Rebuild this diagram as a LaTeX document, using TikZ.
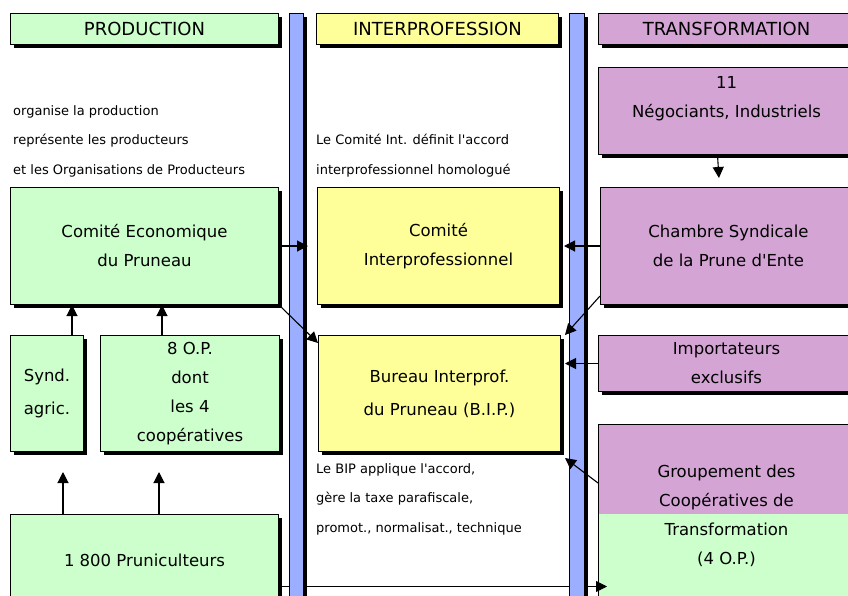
\documentclass[tikz,border=0pt]{standalone}
\usepackage{fontspec}
\setmainfont{DejaVu Sans}
\usetikzlibrary{arrows.meta,positioning,shadows}

\definecolor{prodgreen}{RGB}{204,255,204}
\definecolor{interyellow}{RGB}{255,255,153}
\definecolor{transmauve}{RGB}{212,164,212}
\definecolor{barblue}{RGB}{156,174,255}

\begin{document}
\begin{tikzpicture}[x=1pt,y=-1pt,->,>={Triangle[length=11pt,width=11pt]},
  box/.style={draw=black,line width=1pt,fill=#1,anchor=north west,align=center,
    inner sep=0pt,font=\fontsize{16.5}{29}\selectfont,
    drop shadow={shadow xshift=3pt,shadow yshift=-3pt,fill=black,opacity=1}},
  head/.style={box=#1,minimum height=31pt,font=\fontsize{18}{20}\selectfont},
  note/.style={anchor=base west,align=left,inner sep=0pt,font=\fontsize{13}{29.5}\selectfont},
  bar/.style={box=barblue,minimum height=600pt},
  link/.style={line width=1.1pt}]
  \useasboundingbox[fill=white] (0,0) rectangle (848,595);

  % column heads
  \node[head=prodgreen,minimum width=268pt] (prodhead) at (10,13) {PRODUCTION};
  \node[head=interyellow,minimum width=242pt] (interhead) at (316,13) {INTERPROFESSION};
  \node[head=transmauve,minimum width=256pt] (transhead) at (598,13) {TRANSFORMATION};

  % comments (placed by their last line)
  \node[note] (prodnote) at (13,174) {organise la production\\représente les producteurs\\et les Organisations de Producteurs};
  \node[note] (internote) at (316,174) {Le Comité Int. définit l\textquotesingle accord\\interprofessionnel homologué};
  \node[note] (bipnote) at (316,532) {Le BIP applique l\textquotesingle accord,\\gère la taxe parafiscale,\\promot., normalisat., technique};

  % production
  \node[box=prodgreen,minimum width=268pt,minimum height=117pt] (ce) at (10,187) {Comité Economique\\du Pruneau};
  \node[box=prodgreen,minimum width=73pt,minimum height=116pt] (synd) at (10,335) {Synd.\\[4pt]agric.};
  \node[box=prodgreen,minimum width=179pt,minimum height=116pt] (op) [right=16pt of synd] {8 O.P.\\dont\\les 4\\coopératives};
  \node[box=prodgreen,minimum width=268pt,minimum height=92pt] (pruni) at (10,514) {1 800 Pruniculteurs};

  % interprofession
  \node[box=interyellow,minimum width=242pt,minimum height=117pt] (ci) [right=38pt of ce] {Comité\\Interprofessionnel};
  \node[box=interyellow,minimum width=242pt,minimum height=116pt] (bip) [right=38pt of op] {Bureau Interprof.\\[4pt]du Pruneau (B.I.P.)};

  % transformation
  \node[box=transmauve,minimum width=256pt,minimum height=87pt] (nego) at (598,67) {11\\Négociants, Industriels\\\mbox{}};
  \node[box=transmauve,minimum width=256pt,minimum height=117pt] (cs) [right=40pt of ci] {Chambre Syndicale\\de la Prune d\textquotesingle Ente};
  \node[box=transmauve,minimum width=256pt,minimum height=56pt] (imp) at (598,335) {Importateurs\\exclusifs};
  \node[box=transmauve,minimum width=256pt,minimum height=182pt,
    path picture={\fill[prodgreen] ([yshift=-89pt]path picture bounding box.north west) rectangle (path picture bounding box.south east);}]
    (grp) at (598,424) {Groupement des\\Coopératives de\\Transformation\\(4 O.P.)};

  \coordinate (pg) at ([yshift=-26pt]pruni.east);
  \draw[line width=0.8pt,shorten >=-9pt] (pg) -- (pg -| grp.west);

  % separators
  \node[bar,minimum width=14pt] (bar1) at (289,13) {};
  \node[bar,minimum width=15pt] (bar2) at (569,13) {};

  \path[link]
    ([xshift=-12pt]synd.north east) edge ([xshift=-12pt]synd.north east |- ce.south)
    ([xshift=62pt]op.north west) edge ([xshift=62pt]op.north west |- ce.south)
    ([xshift=53pt]pruni.north west) edge[shorten >=20pt] ([xshift=53pt]pruni.north west |- synd.south)
    ([xshift=149pt]pruni.north west) edge[shorten >=20pt] ([xshift=149pt]pruni.north west |- op.south)
    (ce.east) edge[shorten >=9pt] (ci.west)
    (ce.south east) edge ([yshift=-8pt]bip.north west)
    (cs.west) edge[shorten >=4pt] (ci.east)
    ([yshift=9pt]cs.south west) edge ([xshift=4pt]bip.north east)
    (imp.west) edge[shorten >=4pt] (imp.west -| bip.east)
    ([yshift=-59pt]grp.north west) edge ([xshift=4pt,yshift=-6pt]bip.south east)
    ([xshift=-9pt]nego.south) edge[shorten >=9pt] ([xshift=-9pt]cs.north);
\end{tikzpicture}
\end{document}
